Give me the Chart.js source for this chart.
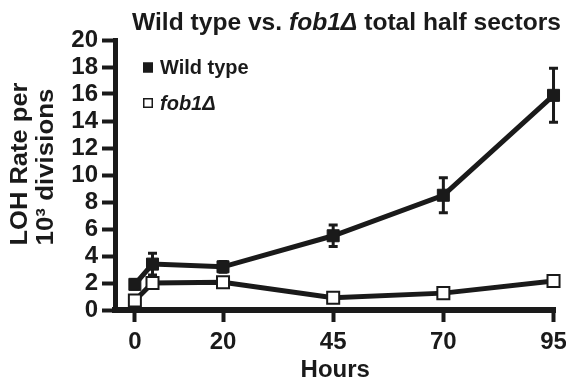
<!DOCTYPE html>
<html>
<head>
<meta charset="utf-8">
<script src="https://cdn.jsdelivr.net/npm/chart.js@4.4.1/dist/chart.umd.min.js"></script>
<style>
html, body { margin: 0; padding: 0; background: #ffffff; }
#wrap { width: 566px; height: 381px; position: relative; }
</style>
</head>
<body>
<div id="wrap"><canvas id="c" width="566" height="381"></canvas></div>
<script>
// ---- data ----
const hours = [0, 4, 20, 45, 70, 95];
const xTickValues = [0, 20, 45, 70, 95];
const yTickValues = [0, 2, 4, 6, 8, 10, 12, 14, 16, 18, 20];
const wildType = [1.9, 3.4, 3.2, 5.5, 8.5, 15.9];
const wildTypeErr = [0.35, 0.8, 0.4, 0.8, 1.3, 2.0];
const fob1 = [0.7, 2.0, 2.05, 0.9, 1.25, 2.15];
const fob1Err = [0.15, 0.2, 0.15, 0.15, 0.4, 0.4];
const seriesNames = ['Wild type', 'fob1Δ'];
const titleParts = [
  { text: 'Wild type vs. ', italic: false },
  { text: 'fob1Δ', italic: true },
  { text: ' total half sectors', italic: false }
];
const xAxisTitle = 'Hours';
const yAxisTitleLines = ['LOH Rate per', '10³ divisions'];

const FONT = "'Liberation Sans', Arial, Helvetica, sans-serif";
const INK = '#1a1a1a';

const toPoints = (xs, ys) => xs.map((x, i) => ({ x: x, y: ys[i] }));

const decorPlugin = {
  id: 'decor',
  beforeDatasetsDraw(chart) {
    const ctx = chart.ctx;
    const xs = chart.scales.x, ys = chart.scales.y;
    ctx.save();
    ctx.strokeStyle = INK;
    ctx.lineWidth = 3;
    chart.data.datasets.forEach(ds => {
      const errs = ds.errors || [];
      ds.data.forEach((p, i) => {
        const e = errs[i];
        if (!e) return;
        const px = xs.getPixelForValue(p.x);
        const top = ys.getPixelForValue(p.y + e);
        const bot = ys.getPixelForValue(p.y - e);
        ctx.beginPath();
        ctx.moveTo(px, top); ctx.lineTo(px, bot);
        ctx.moveTo(px - 4.5, top); ctx.lineTo(px + 4.5, top);
        ctx.moveTo(px - 4.5, bot); ctx.lineTo(px + 4.5, bot);
        ctx.stroke();
      });
    });
    ctx.restore();
  },
  afterDraw(chart) {
    const ctx = chart.ctx;
    ctx.save();
    ctx.fillStyle = INK;
    // Title with mixed italic
    ctx.textBaseline = 'alphabetic';
    ctx.textAlign = 'left';
    const fs = 24;
    const fonts = titleParts.map(p => (p.italic ? 'italic ' : '') + 'bold ' + fs + 'px ' + FONT);
    let widths = titleParts.map((p, i) => { ctx.font = fonts[i]; return ctx.measureText(p.text).width; });
    const total = widths.reduce((a, b) => a + b, 0);
    const targetW = 429;
    const sx = targetW / total;
    ctx.save();
    ctx.translate(346.5 - targetW / 2, 30);
    ctx.scale(sx, 1);
    let cx = 0;
    titleParts.forEach((p, i) => { ctx.font = fonts[i]; ctx.fillText(p.text, cx, 0); cx += widths[i]; });
    ctx.restore();

    // Legend
    const legendRows = [
      { y: 67.5, ds: chart.data.datasets[0], italic: false },
      { y: 103, ds: chart.data.datasets[1], italic: true }
    ];
    legendRows.forEach((r, i) => {
      ctx.fillStyle = r.ds.pointBackgroundColor;
      ctx.strokeStyle = INK;
      ctx.lineWidth = 1.5;
      ctx.fillRect(143, r.y - 5, 10, 10);
      ctx.strokeRect(143.75, r.y - 4.25, 8.5, 8.5);
      ctx.fillStyle = INK;
      ctx.font = (r.italic ? 'italic ' : '') + 'bold 20px ' + FONT;
      ctx.textBaseline = 'middle';
      ctx.fillText(seriesNames[i], 160, r.y + 1);
    });

    // Y axis title (two rotated lines)
    ctx.font = 'bold 24px ' + FONT;
    ctx.textAlign = 'center';
    ctx.textBaseline = 'middle';
    const yPos = [[20, 164], [46, 167]];
    yAxisTitleLines.forEach((t, i) => {
      ctx.save();
      ctx.translate(yPos[i][0], yPos[i][1]);
      ctx.rotate(-Math.PI / 2);
      const w = ctx.measureText(t).width;
      const target = i === 0 ? 163 : 157;
      ctx.scale(target / w, 1);
      ctx.fillText(t, 0, 0);
      ctx.restore();
    });
    ctx.restore();
  }
};

new Chart(document.getElementById('c'), {
  type: 'line',
  data: {
    datasets: [
      {
        label: seriesNames[0],
        data: toPoints(hours, wildType),
        errors: wildTypeErr,
        borderColor: INK,
        borderWidth: 5,
        pointStyle: 'rect',
        pointRadius: 8.5,
        pointBorderWidth: 1,
        pointBackgroundColor: INK,
        pointBorderColor: INK,
        tension: 0,
        clip: false
      },
      {
        label: seriesNames[1],
        data: toPoints(hours, fob1),
        errors: fob1Err,
        borderColor: INK,
        borderWidth: 5,
        pointStyle: 'rect',
        pointRadius: 8.5,
        pointBorderWidth: 2,
        pointBackgroundColor: '#ffffff',
        pointBorderColor: INK,
        tension: 0,
        clip: false
      }
    ]
  },
  options: {
    responsive: false,
    animation: false,
    events: [],
    layout: { padding: { left: 0, top: 40, right: 8, bottom: 0 } },
    plugins: { legend: { display: false }, title: { display: false }, tooltip: { enabled: false } },
    scales: {
      x: {
        type: 'linear',
        min: -4.51,
        max: 95.45,
        afterBuildTicks: s => { s.ticks = xTickValues.map(v => ({ value: v })); },
        afterFit: s => { s.height = 71; s.paddingLeft = 0; s.paddingRight = 0; },
        border: { display: true, color: INK, width: 6 },
        grid: { display: true, drawOnChartArea: false, drawTicks: true, tickLength: 12, tickWidth: 4, tickColor: INK },
        ticks: { color: INK, font: { family: FONT, size: 24, weight: 'bold' }, padding: 6, maxRotation: 0, autoSkip: false },
        title: { display: true, text: xAxisTitle, color: INK, font: { family: FONT, size: 24, weight: 'bold', lineHeight: 0.9 }, padding: { top: 0, bottom: 0 } }
      },
      y: {
        type: 'linear',
        min: 0,
        max: 20,
        afterBuildTicks: s => { s.ticks = yTickValues.map(v => ({ value: v })); },
        afterFit: s => { s.width = 115; s.paddingTop = 0; s.paddingBottom = 0; },
        border: { display: true, color: INK, width: 5 },
        grid: { display: true, drawOnChartArea: false, drawTicks: true, tickLength: 13, tickWidth: 4, tickColor: INK },
        ticks: { color: INK, font: { family: FONT, size: 24, weight: 'bold' }, padding: 4, autoSkip: false }
      }
    }
  },
  plugins: [decorPlugin]
});
</script>
</body>
</html>
